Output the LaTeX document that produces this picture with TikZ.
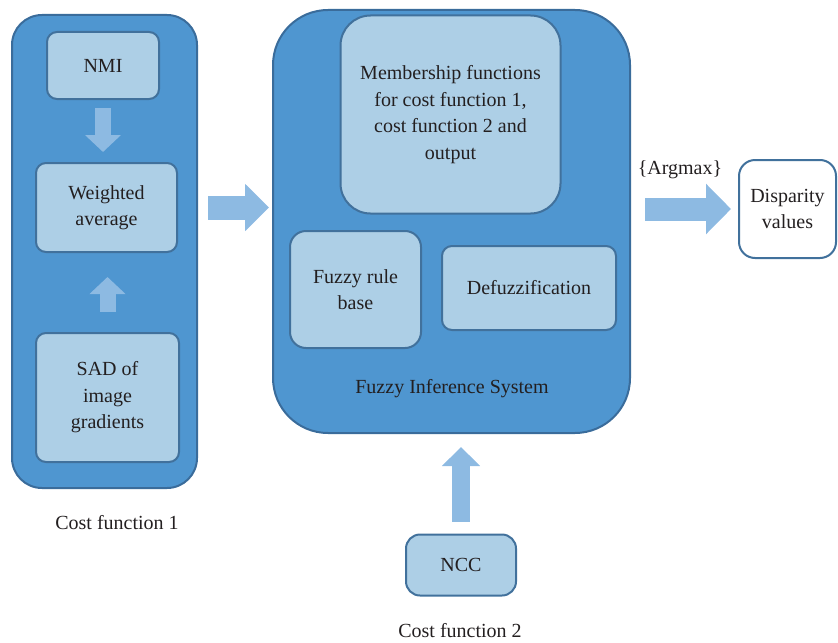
\documentclass[tikz,border=0pt]{standalone}
\usepackage{fontspec}
\setmainfont{Liberation Serif}
\usepackage{xcolor}
\usepackage{tikz}
\usetikzlibrary{arrows.meta}
\definecolor{outerblue}{RGB}{79,150,208}
\definecolor{outerline}{RGB}{58,108,155}
\definecolor{innerblue}{RGB}{173,207,230}
\definecolor{innerline}{RGB}{65,113,156}
\definecolor{arrowblue}{RGB}{141,186,226}
\definecolor{txt}{RGB}{35,31,32}
\tikzstyle{outerbox} = [rectangle, rounded corners=15pt, draw = outerline, line width=1pt, fill = outerblue]
\tikzstyle{innerbox} = [rectangle, rounded corners=5pt, draw = innerline, line width=1pt, fill = innerblue, text centered, text = txt, align=center, font=\fontsize{10}{13.2}\selectfont]
\tikzstyle{label} = [text = txt, font=\fontsize{10}{13.2}\selectfont, align=center]
\tikzstyle{fatarrow} = [draw = arrowblue, line width=8pt, -{Triangle[length=8.5pt, width=17.5pt, fill=arrowblue]}]

\begin{document}
\begin{tikzpicture}[x=0.5pt, y=-0.5pt]
\useasboundingbox (0,0) rectangle (838,642);

\node(lbox) [outerbox, minimum width=92.5pt, minimum height=236.5pt] at (104.5,251.5) {};
\node(nmi) [innerbox, minimum width=56pt, minimum height=33.5pt] at (103,65.5) {NMI};
\node(wavg) [innerbox, minimum width=70.5pt, minimum height=44.5pt] at (106.5,207.5) {Weighted\\average};
\node(sad) [innerbox, minimum width=71.5pt, minimum height=64.5pt] at (107.5,397.5) {SAD of\\image\\gradients};
\node(cfone) [label] at (117,523) {Cost function 1};

\node(fis) [outerbox, rounded corners=27.5pt, minimum width=178.5pt, minimum height=211.5pt] at (451.5,221.5) {};
\node(memb) [innerbox, rounded corners=15pt, minimum width=110pt, minimum height=99pt] at (450.5,114.5) {Membership functions\\for cost function 1,\\cost function 2 and\\output};
\node(rule) [innerbox, rounded corners=8pt, minimum width=65.5pt, minimum height=58.5pt] at (355.5,289.5) {Fuzzy rule\\base};
\node(defuzz) [innerbox, minimum width=87pt, minimum height=42pt] at (529,288) {Defuzzification};
\node(fislabel) [label] at (452,389) {Fuzzy Inference System};

\node(ncc) [innerbox, rounded corners=7pt, minimum width=55pt, minimum height=30.5pt] at (461,565) {NCC};
\node(cftwo) [label] at (460,631) {Cost function 2};

\node(disp) [innerbox, rounded corners=8pt, fill = white, minimum width=48.5pt, minimum height=49pt] at (787.5,209) {Disparity\\values};
\node(argmax) [label] at (680,170) {\{Argmax\}};

\draw [fatarrow, shorten <=4pt, shorten >=5pt] (nmi.south) -- (nmi.south |- wavg.north);
\draw [fatarrow, shorten <=10pt, shorten >=12pt] (sad.north) -- (sad.north |- wavg.south);
\draw [fatarrow, line width=12pt, -{Triangle[length=12pt, width=23pt, fill=arrowblue]}, shorten <=5pt, shorten >=1.5pt] (lbox.east |- wavg.center) -- (fis.west |- wavg.center);
\draw [fatarrow, line width=11.5pt, -{Triangle[length=12.5pt, width=24.5pt, fill=arrowblue]}, shorten <=7pt, shorten >=3.5pt] (fis.east |- disp.center) -- (disp.west);
\draw [fatarrow, line width=9pt, -{Triangle[length=9.5pt, width=18.5pt, fill=arrowblue]}, shorten <=6pt, shorten >=6.5pt] (ncc.north) -- (ncc.north |- fis.south);

\end{tikzpicture}
\end{document}
